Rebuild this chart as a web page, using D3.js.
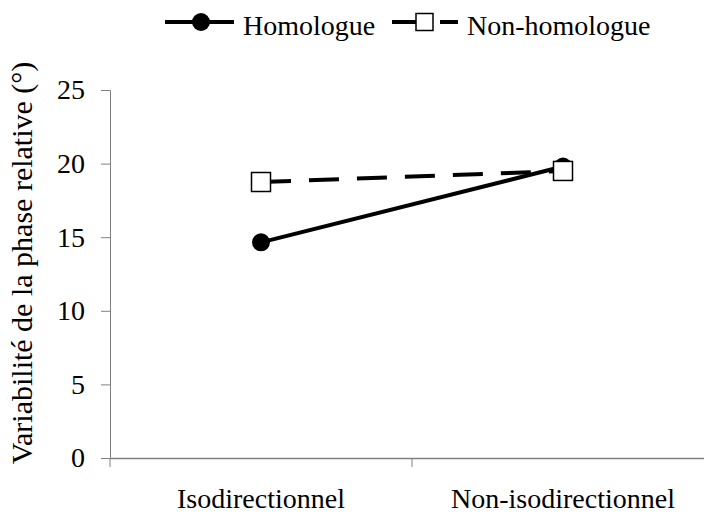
<!DOCTYPE html>
<html><head><meta charset="utf-8">
<script src="https://cdn.jsdelivr.net/npm/d3@7"></script>
<style>body{margin:0;background:#fff}svg{display:block}text{font-family:'Liberation Serif','Times New Roman',serif}</style>
</head><body>
<svg id="c" width="704" height="515"></svg>
<script>
const categories = ["Isodirectionnel", "Non-isodirectionnel"];
const homologue = [14.65, 19.8];
const nonHomologue = [18.75, 19.5];
const yTicks = [0, 5, 10, 15, 20, 25];
const seriesNames = ["Homologue", "Non-homologue"];
const yTitle = "Variabilité de la phase relative (°)";

const svg = d3.select("#c");
const font = "'Liberation Serif', 'Times New Roman', serif";
const x0 = 110, x1 = 714, yTop = 90, yBot = 458;
const x = d3.scaleBand().domain(categories).range([x0, x1]);
const y = d3.scaleLinear().domain([0, 25]).range([yBot, yTop]);
const axisColor = "#808080";

// Y axis
const ya = svg.append("g").attr("transform", `translate(${x0},0)`)
  .call(d3.axisLeft(y).tickValues(yTicks).tickSize(9).tickPadding(16).tickFormat(d3.format("d")));
ya.attr("font-family", font).attr("font-size", 28);
ya.select(".domain").attr("stroke", axisColor).attr("stroke-width", 1);
ya.selectAll(".tick line").attr("stroke", axisColor);
ya.selectAll("text").attr("font-family", font).attr("font-size", 28).attr("fill", "#000");

// X axis
const xa = svg.append("g").attr("transform", `translate(0,${yBot})`)
  .call(d3.axisBottom(x).tickSize(0).tickPadding(0));
xa.attr("font-family", font).attr("font-size", 28);
xa.select(".domain").attr("stroke", axisColor).attr("stroke-width", 1.5);
xa.selectAll("text").attr("font-family", font).attr("font-size", 28).attr("fill", "#000")
  .attr("y", 50).attr("dy", null);
// category boundary ticks
const bounds = categories.map(c => x(c)).concat([x1]);
svg.append("g").selectAll("line").data(bounds).join("line")
  .attr("x1", d => d).attr("x2", d => d).attr("y1", yBot).attr("y2", yBot + 9)
  .attr("stroke", axisColor).attr("stroke-width", 1);

// Y title
svg.append("text").attr("transform", `translate(32,${(yTop + yBot) / 2 - 11}) rotate(-90)`)
  .attr("text-anchor", "middle").attr("font-family", font).attr("font-size", 30)
  .text(yTitle);

const cx = c => x(c) + x.bandwidth() / 2;
const line = d3.line().x(d => cx(d.c)).y(d => y(d.v));
const hData = categories.map((c, i) => ({c, v: homologue[i]}));
const nData = categories.map((c, i) => ({c, v: nonHomologue[i]}));

// Homologue line + circles
svg.append("path").datum(hData).attr("d", line).attr("fill", "none")
  .attr("stroke", "#000").attr("stroke-width", 4);
svg.append("g").selectAll("circle").data(hData).join("circle")
  .attr("cx", d => cx(d.c)).attr("cy", d => y(d.v)).attr("r", 9).attr("fill", "#000");

// Non-homologue dashed + squares
svg.append("path").datum(nData).attr("d", line).attr("fill", "none")
  .attr("stroke", "#000").attr("stroke-width", 4).attr("stroke-dasharray", "30,18");
svg.append("g").selectAll("rect").data(nData).join("rect")
  .attr("x", d => cx(d.c) - 9.5).attr("y", d => y(d.v) - 9.5).attr("width", 19).attr("height", 19)
  .attr("fill", "#fff").attr("stroke", "#000").attr("stroke-width", 1.5);

// Legend
const lg = svg.append("g");
lg.append("line").attr("x1", 165).attr("x2", 234).attr("y1", 22).attr("y2", 22)
  .attr("stroke", "#000").attr("stroke-width", 4);
lg.append("circle").attr("cx", 201).attr("cy", 22).attr("r", 9).attr("fill", "#000");
lg.append("text").attr("x", 243).attr("y", 35).attr("font-family", font).attr("font-size", 28)
  .text(seriesNames[0]);
lg.append("line").attr("x1", 392).attr("x2", 458).attr("y1", 22).attr("y2", 22)
  .attr("stroke", "#000").attr("stroke-width", 4).attr("stroke-dasharray", "24,24,18,100");
lg.append("rect").attr("x", 416).attr("y", 13.5).attr("width", 17).attr("height", 17)
  .attr("fill", "#fff").attr("stroke", "#000").attr("stroke-width", 1.5);
lg.append("text").attr("x", 467).attr("y", 35).attr("font-family", font).attr("font-size", 28)
  .text(seriesNames[1]);
</script>
</body></html>
